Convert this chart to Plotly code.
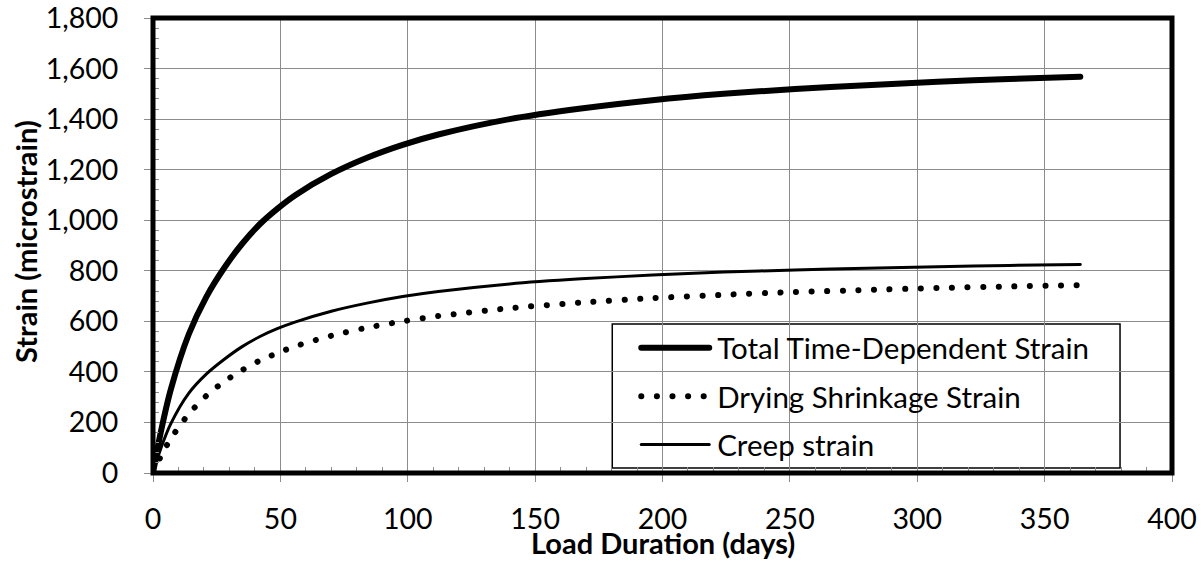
import plotly.graph_objects as go

# ---- data ----
days = [0, 3, 7, 14, 21, 28, 35, 42, 49, 56, 70, 84, 98, 112, 140, 168, 196, 224, 252, 280, 308, 336, 364]
total_strain = [0, 159, 331, 548, 698, 812, 907, 985, 1047, 1100, 1183, 1247, 1298, 1339, 1400, 1442, 1475, 1500,
                1519, 1534, 1548, 1559, 1568]
shrinkage_strain = [0, 64, 136, 233, 306, 362, 407, 445, 475, 502, 543, 575, 600, 621, 652, 674, 692, 705, 716, 724,
                    732, 738, 743]
creep_strain = [0, 95, 195, 315, 392, 450, 500, 540, 572, 598, 640, 672, 698, 718, 748, 768, 783, 795, 803, 810, 816,
                821, 825]
series_names = ["Total Time-Dependent Strain", "Drying Shrinkage Strain", "Creep strain"]
x_ticks = [0, 50, 100, 150, 200, 250, 300, 350, 400]
y_ticks = [0, 200, 400, 600, 800, 1000, 1200, 1400, 1600, 1800]
x_title = "Load Duration (days)"
y_title = "Strain (microstrain)"

FONT = "Lato"
GRID = "#8c8c8c"

fig = go.Figure()
fig.add_trace(go.Scatter(x=days, y=total_strain, name=series_names[0], mode="lines",
                         line=dict(color="black", width=6, shape="spline", smoothing=0.8),
                         legendgroup="a"))
fig.add_trace(go.Scatter(x=days, y=shrinkage_strain, name=series_names[1], mode="lines",
                         line=dict(color="black", width=6, dash="0.1px,15.5px", shape="spline", smoothing=0.8),
                         legendgroup="b"))
fig.add_trace(go.Scatter(x=days, y=creep_strain, name=series_names[2], mode="lines",
                         line=dict(color="black", width=3, shape="spline", smoothing=0.8),
                         legendgroup="c"))

fig.update_layout(
    width=1203, height=564,
    margin=dict(l=152.5, r=31, t=18, b=91, pad=0, autoexpand=False),
    paper_bgcolor="white", plot_bgcolor="white",
    font=dict(family=FONT, color="black", size=27),
    showlegend=True,
    legend=dict(x=0.4654, y=0.3316, xanchor="left", yanchor="top",
                bgcolor="rgba(0,0,0,0)", borderwidth=0, itemwidth=80,
                font=dict(family=FONT, size=29.5, color="black"),
                traceorder="grouped", tracegroupgap=7),
    shapes=[
        # legend frame
        dict(type="rect", xref="paper", yref="paper", x0=0.4507, x1=0.949, y0=0.011, y1=0.3275,
             line=dict(color="black", width=1.5), fillcolor="white", layer="below"),
        # plot area border
        dict(type="rect", xref="paper", yref="paper", x0=0, x1=1, y0=0, y1=1,
             line=dict(color="black", width=5), layer="above"),
    ],
    annotations=[
        dict(text="<b>" + x_title + "</b>", xref="paper", yref="paper", x=0.5, y=0,
             xanchor="center", yanchor="middle", yshift=-69, showarrow=False,
             font=dict(family=FONT, size=29, color="black")),
        dict(text="<b>" + y_title + "</b>", xref="paper", yref="paper", x=0, y=0.5,
             xanchor="center", yanchor="middle", xshift=-127.5, yshift=4, textangle=-90,
             showarrow=False, font=dict(family=FONT, size=29, color="black")),
    ],
)

fig.update_xaxes(
    range=[0, 400], tickvals=x_ticks, ticktext=[str(v) for v in x_ticks],
    showgrid=True, gridcolor=GRID, gridwidth=1.2,
    showline=True, linecolor=GRID, linewidth=1,
    ticks="outside", ticklen=8, tickcolor=GRID, tickwidth=1,
    minor=dict(dtick=10, ticks="inside", ticklen=6, tickcolor=GRID, showgrid=False),
    ticklabelstandoff=13, automargin=False, ticklabeloverflow="allow",
    tickfont=dict(family=FONT, size=28.5),
    zeroline=False, fixedrange=True,
)
fig.update_yaxes(
    range=[0, 1800], tickvals=y_ticks, ticktext=[f"{v:,}" for v in y_ticks],
    showgrid=True, gridcolor=GRID, gridwidth=1.2,
    showline=True, linecolor=GRID, linewidth=1,
    ticks="outside", ticklen=8, tickcolor=GRID, tickwidth=1,
    minor=dict(dtick=40, ticks="inside", ticklen=6, tickcolor=GRID, showgrid=False),
    ticklabelstandoff=20, automargin=False, ticklabeloverflow="allow",
    tickfont=dict(family=FONT, size=28.5),
    zeroline=False, fixedrange=True,
)

post = """
document.body.style.margin = '0';
document.body.style.padding = '0';
var gd = document.getElementById('{plot_id}');
function fixLines(){
  gd.querySelectorAll('.scatterlayer path.js-line, .legend path').forEach(function(p){
    p.style.strokeLinecap = 'round';
  });
  gd.querySelectorAll('.legend .legendlines path').forEach(function(p){
    p.setAttribute('d', 'M14,0h68');
  });
}
fixLines();
setTimeout(fixLines, 50);
setTimeout(fixLines, 300);
if (gd.on) { gd.on('plotly_afterplot', function(){ setTimeout(fixLines, 0); }); }
"""

fig.write_html("out.html", post_script=post, config={"displayModeBar": False})
